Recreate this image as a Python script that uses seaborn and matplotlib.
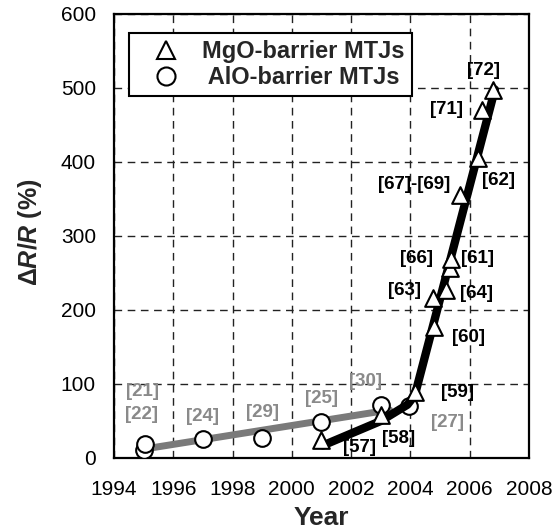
import matplotlib
matplotlib.use("Agg")
import numpy as np
import pandas as pd
import matplotlib.pyplot as plt
import seaborn as sns
from matplotlib.lines import Line2D

# AlO-barrier MTJs (circles) and their trend line
alo_year = [1995.0, 1995.05, 1997.0, 1999.0, 2001.0, 2003.0, 2003.95]
alo_tmr = [11, 19, 25, 27, 49, 72, 70]
alo_refs = ["[22]", "[21]", "[24]", "[29]", "[25]", "[30]", "[27]"]
alo_trend_year = [1995.0, 2003.3]
alo_trend_tmr = [12, 65]

# MgO-barrier MTJs (triangles) and their trend line
mgo_year = [2001.0, 2003.0, 2004.15, 2004.8, 2004.75, 2005.2, 2005.33,
            2005.36, 2005.67, 2006.28, 2006.4, 2006.8]
mgo_tmr = [24, 58, 89, 177, 216, 227, 257, 269, 355, 405, 470, 497]
mgo_refs = ["[57]", "[58]", "[59]", "[60]", "[63]", "[64]", "[61]",
            "[66]", "[67]-[69]", "[62]", "[71]", "[72]"]
mgo_trend_year = [2001.05, 2003.0, 2003.9, 2004.15, 2006.85]
mgo_trend_tmr = [17, 50, 72, 85, 498]

x_ticks = [1994, 1996, 1998, 2000, 2002, 2004, 2006, 2008]
y_ticks = [0, 100, 200, 300, 400, 500, 600]

# label offsets in pixels from each point
alo_offsets = [(-2, 35), (-3, 52), (0, 23), (0, 26), (0, 23), (-15, 23), (39, -16)]
mgo_offsets = [(38, -7), (18, -23), (43, 0), (34, -10), (-28, 8), (31, -3),
               (28, 9), (-34, 0), (-46, 11), (21, -22), (-35, 1), (-10, 20)]

sns.set_theme(style="white")
plt.rcParams["font.family"] = ["Liberation Sans", "DejaVu Sans"]
plt.rcParams["mathtext.fontset"] = "custom"
plt.rcParams["mathtext.it"] = "Liberation Sans:italic:bold"
plt.rcParams["mathtext.rm"] = "Liberation Sans:bold"
plt.rcParams["mathtext.bf"] = "Liberation Sans:bold"

alo = pd.DataFrame({"year": alo_year, "tmr": alo_tmr})
mgo = pd.DataFrame({"year": mgo_year, "tmr": mgo_tmr})

fig = plt.figure(figsize=(5.52, 5.32), dpi=100)
ax = fig.add_axes([0.2065, 0.1391, 0.7518, 0.8346])

gray = "#7a7a7a"
sns.lineplot(x=alo_trend_year, y=alo_trend_tmr, ax=ax, color=gray,
             linewidth=5, zorder=2)
sns.scatterplot(data=alo, x="year", y="tmr", ax=ax, marker="o", s=144,
                facecolor="white", edgecolor="black", linewidth=1.5, zorder=3)
sns.lineplot(x=mgo_trend_year, y=mgo_trend_tmr, ax=ax, color="black",
             linewidth=6, zorder=4)
sns.scatterplot(data=mgo, x="year", y="tmr", ax=ax, marker="^", s=144,
                facecolor="white", edgecolor="black", linewidth=1.5, zorder=5)

for x, y, r, off in zip(alo_year, alo_tmr, alo_refs, alo_offsets):
    ax.annotate(r, (x, y), xytext=off, textcoords="offset pixels",
                ha="center", va="center", fontsize=13.5, fontweight="bold",
                color="#8a8a8a", zorder=6)
for x, y, r, off in zip(mgo_year, mgo_tmr, mgo_refs, mgo_offsets):
    ax.annotate(r, (x, y), xytext=off, textcoords="offset pixels",
                ha="center", va="center", fontsize=13.5, fontweight="bold",
                color="black", zorder=6)

ax.set_xlim(1994, 2008)
ax.set_ylim(0, 600)
ax.set_xticks(x_ticks)
ax.set_yticks(y_ticks)
ax.grid(True, color="#222222", linewidth=1.0, linestyle=(0, (5.5, 4)))
ax.set_axisbelow(True)
for s in ax.spines.values():
    s.set_color("black")
    s.set_linewidth(1.6)
ax.tick_params(axis="both", direction="in", length=5, width=1.5,
               labelsize=15, colors="black")
ax.tick_params(axis="x", pad=16)
ax.tick_params(axis="y", pad=13)

ax.set_xlabel("Year", fontsize=19, fontweight="bold")
ax.set_ylabel(r"$\mathit{\Delta R/R}$ (%)", fontsize=18, fontweight="bold")
ax.xaxis.label.set_va("center")
ax.yaxis.label.set_va("center")
ax.xaxis.set_label_coords(0.5, -0.135)
ax.yaxis.set_label_coords(-0.2024, 0.509)

handles = [
    Line2D([], [], marker="^", ls="none", ms=13, mfc="white", mec="black", mew=1.5),
    Line2D([], [], marker="o", ls="none", ms=13, mfc="white", mec="black", mew=1.5),
]
leg = ax.legend(handles, ["MgO-barrier MTJs", " AlO-barrier MTJs"],
                loc="upper left", bbox_to_anchor=((129 - 114) / 415, (458 - 33) / 444),
                borderaxespad=0, frameon=True, fancybox=False, edgecolor="black",
                framealpha=1, prop={"weight": "bold", "size": 17},
                borderpad=0.3, labelspacing=0.12, handlelength=2.5,
                handletextpad=0.3)
leg.get_frame().set_linewidth(1.5)
leg.set_zorder(7)

fig.savefig("out.png", dpi=100)
